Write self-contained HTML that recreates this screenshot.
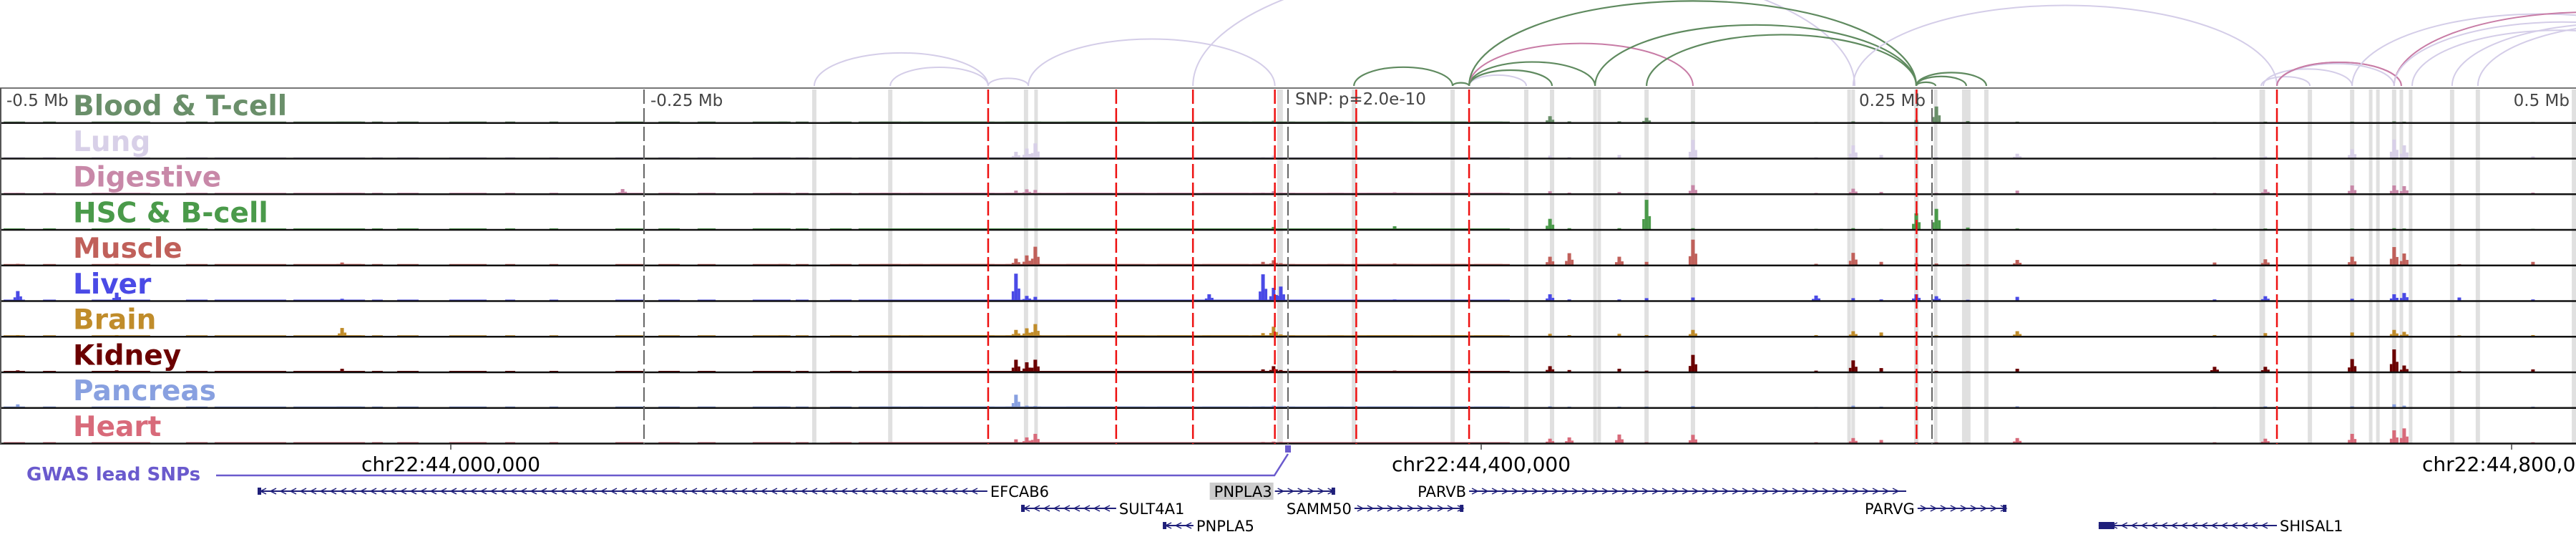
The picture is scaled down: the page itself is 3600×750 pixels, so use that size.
<!DOCTYPE html>
<html><head><meta charset="utf-8">
<style>
html,body{margin:0;padding:0;background:#fff;}
svg{display:block;}
text{font-family:"DejaVu Sans","Liberation Sans",sans-serif;}
</style></head>
<body>
<svg id="chart" width="3600" height="750" viewBox="0 0 3600 750" xmlns="http://www.w3.org/2000/svg">
<g id="arcs"></g>
<g id="bands"></g>
<g id="tracks"></g>
<g id="vlines"></g>
<g id="labels"></g>
<g id="axis"></g>
<g id="genes"></g>
</svg>
<script>
// ---- data ----
const regionStart = 43825000;
const regionEnd = 44825000;
const snpPos = 44325000;
const axisTicks = [44000000, 44400000, 44800000];
const axisTickLabels = ["chr22:44,000,000", "chr22:44,400,000", "chr22:44,800,000"];
const relTicks = [-500000, -250000, 250000, 500000];
const relTickLabels = ["-0.5 Mb", "-0.25 Mb", "0.25 Mb", "0.5 Mb"];
const trackNames = ["Blood & T-cell","Lung","Digestive","HSC & B-cell","Muscle","Liver","Brain","Kidney","Pancreas","Heart"];
const trackColors = ["#6a8f6a","#d8d0e8","#c888a8","#4a9a4a","#c0605a","#4a4ae6","#c08c2a","#6b0000","#88a0e0","#d86a7a"];
const peakKb = [6.9,45.3,132.8,241.7,394.4,398.6,401.9,469.4,490.3,494.4,497.2,541.4,601.7,609.2,628.6,639.2,657.2,705,719.4,730.3,743.9,751.7,763.9,783.1,859.7,879.4,913.1,929.4,933.3,954.7,983.3];
const sigBlood    = [3,3,3,0,2,2,2,0,2,6,3,2,20,4,4,15,4,2,4,2,8,50,5,3,2,3,3,4,3,0,2];
const sigLung     = [3,3,3,0,20,30,46,0,4,8,4,3,8,4,10,3,57,3,40,10,3,4,2,14,3,6,28,58,40,0,6];
const sigDigestive= [3,3,3,15,10,14,12,0,4,8,4,5,8,4,6,3,27,3,16,6,3,3,2,10,3,14,26,26,24,0,4];
const sigHSC      = [3,3,3,0,2,2,2,0,2,8,3,10,33,4,4,92,4,2,4,2,50,64,6,3,2,3,3,4,3,0,2];
const sigMuscle   = [4,4,8,0,20,30,57,3,10,15,6,5,26,37,26,10,79,4,38,10,6,5,3,16,8,18,26,56,36,3,10];
const sigLiver    = [30,25,6,0,84,15,12,20,82,40,44,4,20,4,4,8,10,16,8,4,20,14,3,12,4,14,6,20,24,10,4];
const sigBrain    = [4,4,26,0,20,25,38,3,10,30,6,3,8,4,8,4,20,4,16,12,3,3,2,16,4,10,12,20,14,3,4];
const sigKidney   = [5,5,10,0,38,30,38,3,8,18,6,4,18,6,10,4,53,4,36,12,3,3,2,10,16,16,40,70,20,3,8];
const sigPancreas = [10,3,3,0,40,6,5,0,4,6,4,2,4,3,3,3,5,2,6,3,2,2,2,4,2,4,4,10,6,0,3];
const sigHeart    = [3,3,3,0,12,18,29,0,4,5,4,3,14,18,27,3,26,3,16,10,3,3,2,16,3,14,29,40,46,0,3];
const trackSignals = [sigBlood,sigLung,sigDigestive,sigHSC,sigMuscle,sigLiver,sigBrain,sigKidney,sigPancreas,sigHeart];
const covStartKb = [1.4,16.7,35.6,72.2,83.3,100,113.9,130.6,144.4,154.2,174.4,196.1,213.3,238.9,255.6,270.8,292.2,302.2,308.9,322.2,333.3,341.7,352.8,361.1,372.8,390.3,413.9,433.3,449.2,466.7,486.1,515.3,525,530.6,555.6,572.2,583.3,597.2,604.2,633.3,641.7,666.7,675,690.3,712.5,740.3,755,828,837.5,880.3,895,906.1,993.3];
const covEndKb   = [9.7,21.7,58.3,80.6,100,111.1,140.3,141.7,148.6,162.5,188.9,200,216.7,249.7,263.9,277.8,305.6,306.9,313.9,330.6,349.7,358.3,383.3,386.1,404.2,431.9,444.4,462.5,484.7,502.8,521.7,548.6,569.4,583.3,569.4,583.3,586.1,593.8,604.2,630.6,638.9,658.3,664.7,677.8,711.1,736.1,753.1,788.3,831.9,876.4,891.7,904.4,944.4];
const bandKb = [316.1,345.6,398.3,402.2,496.9,525.6,563.9,592.5,602.5,619.2,620.8,639.2,657.2,717.8,719.4,743.9,751.4,763.3,771.1,877.8,878.6,896.7,913.1,920.3,923.1,929.4,932.2,935.8,951.9,961.9,999.2];
const bandW  = [6,6,6,5,8,6,6,6,6,5,5,6,6,5,5,6,5,12,6,5,5,6,6,5,5,6,5,5,6,6,6];
const redKb = [383.6,433.3,463.1,494.9,526.5,570.3,744,883.9];
const loopA = [316.1,345.6,383.6,399.2,463.1,525.6,563.9,570.3,570.3,570.3,570.3,619.2,639.2,570.3,743.9,743.9,743.9,719.4,877.8,878.6,883.9,883.9,883.9,913.1,929.4,929.4,936.4,951.9,961.9];
const loopB = [383.6,383.6,399.2,494.9,720,563.9,570.3,592.5,602.5,619.2,657.2,743.9,743.9,743.9,751.4,763.3,771.1,883.9,896.7,913.1,929.4,932.2,932.2,1060,1080,1060,1050,1080,1090];
const loopType = [0,0,0,0,0,2,2,0,2,2,1,2,2,2,2,2,2,0,0,0,0,1,1,0,1,0,0,0,0];
const loopColors = ["#d4cde8","#c87ca6","#5f8a5f"];
const loopWidths = [2,2,2.2];

// ---- helpers ----
const NS="http://www.w3.org/2000/svg";
const pxPerBp = 3600/(regionEnd-regionStart);
function xBp(bp){return (bp-regionStart)*pxPerBp;}
function xKb(kb){return kb*1000*pxPerBp;}
const trackTop=123, trackH=49.75;
function yBase(i){return trackTop+trackH*(i+1)-1.5;}
function ySig(v){return v*0.45;}
function mk(tag,parent,attrs){const e=document.createElementNS(NS,tag);for(const k in attrs)e.setAttribute(k,attrs[k]);parent.appendChild(e);return e;}
const G=id=>document.getElementById(id);

const arcBase=120;
for(let i=0;i<loopA.length;i++){
  const x1=xKb(loopA[i]), x2=xKb(loopB[i]);
  const rx=(x2-x1)/2, ry=(x2-x1)*0.19;
  const p=mk('path',G('arcs'),{d:`M${x1},${arcBase} A${rx},${ry} 0 0 1 ${x2},${arcBase}`,fill:'none',stroke:loopColors[loopType[i]],'stroke-width':loopWidths[loopType[i]]});
  
  
}
mk('line',G('vlines'),{x1:0,y1:123,x2:3600,y2:123,stroke:'#777','stroke-width':2});
mk('line',G('vlines'),{x1:1,y1:123,x2:1,y2:620,stroke:'#555','stroke-width':2});

for(let i=0;i<bandKb.length;i++){
  const b=mk('rect',G('bands'),{x:xKb(bandKb[i])-bandW[i]/2,y:125,width:bandW[i],height:495,fill:'#e0e0e0'});
  
  
}

for(let t=0;t<trackNames.length;t++){
  const g=mk('g',G('tracks'),{});
  
  
  const yb=yBase(t);
  for(let s=0;s<covStartKb.length;s++){
    const x1=xKb(covStartKb[s]), x2=xKb(covEndKb[s]);
    if(x2>x1) mk('rect',g,{x:x1,y:yb-1.5,width:x2-x1,height:1.5,fill:trackColors[t]});
  }
  const sig=trackSignals[t];
  for(let p=0;p<peakKb.length;p++){
    if(!sig[p])continue;
    const h=ySig(sig[p]);
    const bar=mk('rect',g,{x:xKb(peakKb[p])-2.5,y:yb-h,width:5,height:h,fill:trackColors[t]});
    
    
    if(sig[p]>12){
      mk('rect',g,{x:xKb(peakKb[p])-6,y:yb-h*0.35,width:3.5,height:h*0.35,fill:trackColors[t]});
      mk('rect',g,{x:xKb(peakKb[p])+2.5,y:yb-h*0.45,width:3.5,height:h*0.45,fill:trackColors[t]});
    }
  }
  mk('line',g,{x1:0,y1:yb+0.5,x2:3600,y2:yb+0.5,stroke:'#111','stroke-width':2.5});
  const lab=mk('text',G('labels'),{x:102,y:trackTop+trackH*t+38,'font-size':39,'font-weight':'bold',fill:trackColors[t]});
  lab.textContent=trackNames[t];
  
  
}

for(let i=0;i<relTicks.length;i++){
  const x=xBp(snpPos+relTicks[i]);
  if(x>2&&x<3598) mk('line',G('vlines'),{x1:x,y1:125,x2:x,y2:620,stroke:'#666','stroke-width':2,'stroke-dasharray':'20 6'});
  const anchor=relTicks[i]<0?'start':'end';
  const tx=relTicks[i]<0?x+9:x-9;
  const t=mk('text',G('axis'),{x:relTicks[i]<0?Math.max(tx,8):Math.min(tx,3592),y:148,'font-size':23,fill:'#444','text-anchor':anchor});
  t.textContent=relTickLabels[i];
  
  
}
const snpX=xBp(snpPos);
mk('line',G('vlines'),{x1:snpX,y1:125,x2:snpX,y2:620,stroke:'#666','stroke-width':2,'stroke-dasharray':'20 6'});
const snpT=mk('text',G('axis'),{x:snpX+10,y:146,'font-size':23,fill:'#444'});
snpT.textContent='SNP: p=2.0e-10';


for(const k of redKb){
  const l=mk('line',G('vlines'),{x1:xKb(k),y1:125,x2:xKb(k),y2:620,stroke:'#ee1111','stroke-width':2.5,'stroke-dasharray':'20 6'});
  
  
}

for(let i=0;i<axisTicks.length;i++){
  const x=xBp(axisTicks[i]);
  mk('line',G('axis'),{x1:x,y1:620,x2:x,y2:628,stroke:'#444','stroke-width':1.5});
  const t=mk('text',G('axis'),{x:x,y:658,'font-size':28,fill:'#000','text-anchor':'middle'});
  t.textContent=axisTickLabels[i];
  
  
}

const gw=mk('text',G('genes'),{x:37,y:671,'font-size':26,'font-weight':'bold',fill:'#6a5acd'});
gw.textContent='GWAS lead SNPs';


mk('polyline',G('genes'),{points:`302,664 ${snpX-19},664 ${snpX},634`,fill:'none',stroke:'#6a5acd','stroke-width':2.5});
const sr=mk('rect',G('genes'),{x:snpX-4,y:622,width:8,height:10,fill:'#6a5acd'});



const geneNames=["EFCAB6","PNPLA3","PARVB","SULT4A1","SAMM50","PARVG","PNPLA5","SHISAL1"];
const geneStartKb=[100,494.9,570.3,396.4,525.8,744.4,451.4,814.7];
const geneEndKb=[383.3,518.3,740,433.3,568.1,778.9,463.3,883.9];
const geneRow=[0,0,0,1,1,1,2,2];
const geneStrand=[-1,1,1,-1,1,1,-1,-1];
const geneLabelSide=[1,-1,-1,1,-1,-1,1,1];
const rowY=[686,710,734];
const color='#1f1f7a';
for(let i=0;i<geneNames.length;i++){
  const g=mk('g',G('genes'),{});
  
  
  const x1=xKb(geneStartKb[i]),x2=xKb(geneEndKb[i]),y=rowY[geneRow[i]];
  mk('line',g,{x1:x1,y1:y,x2:x2,y2:y,stroke:color,'stroke-width':2});
  for(let x=x1+8;x<x2-4;x+=14){
    const d=geneStrand[i]*4;
    mk('polyline',g,{points:`${x-d},${y-4} ${x+d},${y} ${x-d},${y+4}`,fill:'none',stroke:color,'stroke-width':1.5});
  }
  if(geneStrand[i]<0) mk('rect',g,{x:x1,y:y-5,width:i==7?22:5,height:10,fill:color});
  else if(i!=2) mk('rect',g,{x:x2-5,y:y-5,width:5,height:10,fill:color});
  const lx=geneLabelSide[i]>0?x2+4:x1-4;
  if(geneNames[i]==='PNPLA3') mk('rect',g,{x:x1-91,y:674,width:89,height:24,fill:'#cccccc'});
  const t=mk('text',g,{x:lx,y:y+8,'font-size':21,fill:'#000','text-anchor':geneLabelSide[i]>0?'start':'end'});
  t.textContent=geneNames[i];
}
</script>
</body></html>
